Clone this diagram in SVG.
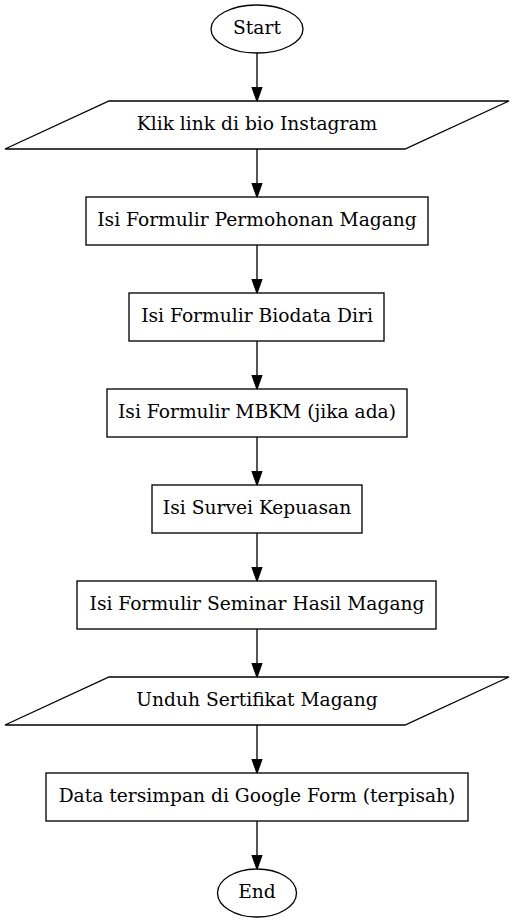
<svg xmlns="http://www.w3.org/2000/svg" width="514" height="923" viewBox="0 0 514 923">
<defs>
<style>
.n{fill:#fff;stroke:#000;stroke-width:1.33}
.t{font-family:"DejaVu Serif","Liberation Serif",serif;font-size:18.67px;text-anchor:middle;fill:#000}
.e{stroke:#000;stroke-width:1.33;fill:none}
.h{fill:#000;stroke:#000;stroke-width:1.33}
</style>
</defs>
<rect width="514" height="923" fill="#fff"/>
<g id="connectors">
<path class="e" d="M257,53 V87.7"/><polygon class="h" points="252.3,87.7 257,101 261.7,87.7"/>
<path class="e" d="M257,149 V183.7"/><polygon class="h" points="252.3,183.7 257,197 261.7,183.7"/>
<path class="e" d="M257,245 V279.7"/><polygon class="h" points="252.3,279.7 257,293 261.7,279.7"/>
<path class="e" d="M257,341 V375.7"/><polygon class="h" points="252.3,375.7 257,389 261.7,375.7"/>
<path class="e" d="M257,437 V471.7"/><polygon class="h" points="252.3,471.7 257,485 261.7,471.7"/>
<path class="e" d="M257,533 V567.7"/><polygon class="h" points="252.3,567.7 257,581 261.7,567.7"/>
<path class="e" d="M257,629 V663.7"/><polygon class="h" points="252.3,663.7 257,677 261.7,663.7"/>
<path class="e" d="M257,725 V759.7"/><polygon class="h" points="252.3,759.7 257,773 261.7,759.7"/>
<path class="e" d="M257,821 V855.7"/><polygon class="h" points="252.3,855.7 257,869 261.7,855.7"/>
</g>
<g id="start"><ellipse class="n" cx="257" cy="29" rx="46" ry="24"/><text class="t" x="257" y="34">Start</text></g>
<g id="klik"><polygon class="n" points="109,101 509,101 405,149 5,149"/><text class="t" x="257" y="130">Klik link di bio Instagram</text></g>
<g id="permohonan"><rect class="n" x="86" y="197" width="342" height="48"/><text class="t" x="257" y="226">Isi Formulir Permohonan Magang</text></g>
<g id="biodata"><rect class="n" x="129" y="293" width="255" height="48"/><text class="t" x="257" y="322">Isi Formulir Biodata Diri</text></g>
<g id="mbkm"><rect class="n" x="107" y="389" width="300" height="48"/><text class="t" x="257" y="418">Isi Formulir MBKM (jika ada)</text></g>
<g id="survei"><rect class="n" x="152" y="485" width="210" height="48"/><text class="t" x="257" y="514">Isi Survei Kepuasan</text></g>
<g id="seminar"><rect class="n" x="77" y="581" width="359" height="48"/><text class="t" x="257" y="610">Isi Formulir Seminar Hasil Magang</text></g>
<g id="unduh"><polygon class="n" points="109,677 509,677 405,725 5,725"/><text class="t" x="257" y="706">Unduh Sertifikat Magang</text></g>
<g id="data"><rect class="n" x="46" y="773" width="422" height="48"/><text class="t" x="257" y="802">Data tersimpan di Google Form (terpisah)</text></g>
<g id="end"><ellipse class="n" cx="257" cy="893" rx="39.5" ry="24"/><text class="t" x="257" y="898">End</text></g>
</svg>
